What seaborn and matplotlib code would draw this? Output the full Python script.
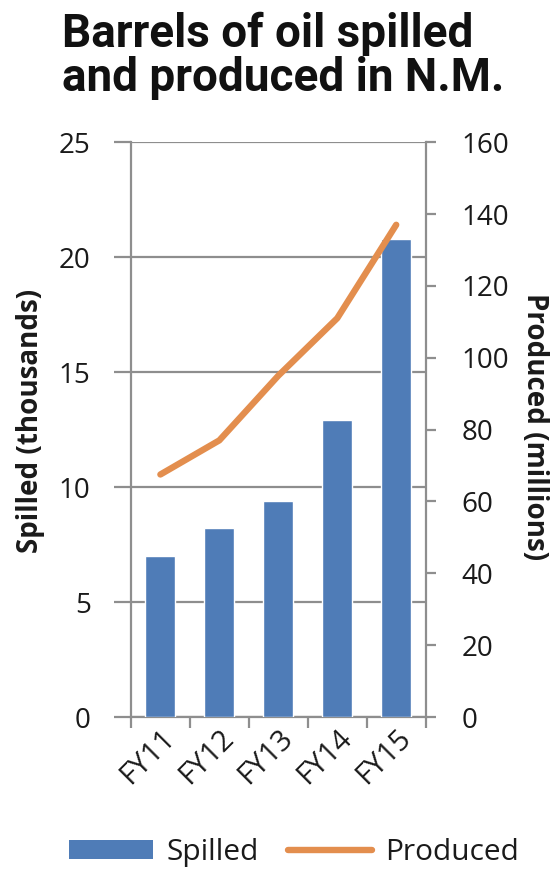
import matplotlib
matplotlib.use("Agg")
import matplotlib.pyplot as plt
from matplotlib import font_manager
from matplotlib.patches import Patch
from matplotlib.lines import Line2D
import seaborn as sns
import pandas as pd

# Data
years = ["FY11", "FY12", "FY13", "FY14", "FY15"]
spilled_thousands = [7.0, 8.2, 9.4, 12.9, 20.8]
produced_millions = [67.5, 77, 95, 111, 137]

left_ticks = [0, 5, 10, 15, 20, 25]
right_ticks = [0, 20, 40, 60, 80, 100, 120, 140, 160]

BLUE = "#4f7cb7"
ORANGE = "#e38e4e"
GRID = "#8e8e8e"
TEXT = "#1a1a1a"


def pick_font(candidates):
    for name in candidates:
        try:
            font_manager.findfont(name, fallback_to_default=False)
            return name
        except Exception:
            continue
    return "DejaVu Sans"


title_font = pick_font(["Roboto", "Open Sans"])
body_font = pick_font(["Open Sans", "Lato"])
label_font = pick_font(["Open Sans", "Lato"])

sns.set_theme(style="white")
plt.rcParams["font.family"] = [body_font, "DejaVu Sans"]

df = pd.DataFrame({"year": years,
                   "spilled": spilled_thousands,
                   "produced": produced_millions})

fig = plt.figure(figsize=(5.5, 8.71), dpi=100)
ax = fig.add_axes([0.238, 0.1768, 0.536, 0.660])

sns.barplot(data=df, x="year", y="spilled", color=BLUE, width=0.51,
            saturation=1, ax=ax, zorder=3)
ax.set_xlim(-0.5, len(years) - 0.5)
ax.set_ylim(0, 25)
ax.set_yticks(left_ticks)
ax.set_yticklabels([str(t) for t in left_ticks])
ax.yaxis.grid(True, color=GRID, linewidth=1.6, zorder=0)
ax.set_axisbelow(True)
ax.set_xlabel("")
ax.set_ylabel("Spilled (thousands)", fontsize=20, fontweight="bold",
              family=[label_font, "DejaVu Sans"], color=TEXT,
              ha="center", va="center")
ax.yaxis.set_label_coords(-0.342, 0.515)

for side in ["top", "right"]:
    ax.spines[side].set_visible(False)
for side in ["left", "bottom"]:
    ax.spines[side].set_color(GRID)
    ax.spines[side].set_linewidth(1.6)

# category boundary ticks on the x axis
ax.set_xticks([i - 0.5 for i in range(len(years) + 1)], minor=True)
ax.tick_params(axis="x", which="minor", bottom=True, length=8, width=1.6,
               color=GRID)
ax.tick_params(axis="x", which="major", bottom=False, length=0, pad=5,
               labelsize=21, labelcolor=TEXT)
ax.tick_params(axis="y", left=True, length=12, width=1.6, color=GRID,
               pad=17, labelsize=20, labelcolor=TEXT)
for lab in ax.get_xticklabels():
    lab.set_rotation(45)
    lab.set_ha("right")
    lab.set_va("top")
    lab.set_rotation_mode("anchor")

ax2 = ax.twinx()
sns.lineplot(x=list(range(len(years))), y=produced_millions, color=ORANGE,
             linewidth=4.6, ax=ax2, solid_capstyle="round", zorder=4)
ax2.set_ylim(0, 160)
ax2.set_yticks(right_ticks)
ax2.set_yticklabels([str(t) for t in right_ticks])
ax2.set_xlim(-0.5, len(years) - 0.5)
for side in ["top", "left", "bottom"]:
    ax2.spines[side].set_visible(False)
ax2.spines["right"].set_color(GRID)
ax2.spines["right"].set_linewidth(1.6)
ax2.tick_params(axis="y", right=True, length=7, width=1.6, color=GRID,
                pad=19, labelsize=20, labelcolor=TEXT)
ax2.set_ylabel("Produced (millions)", fontsize=20, fontweight="bold",
               family=[label_font, "DejaVu Sans"], color=TEXT,
               rotation=270, ha="center", va="center")
ax2.yaxis.set_label_coords(1.368, 0.505)

fig.text(0.112, 0.987, "Barrels of oil spilled\nand produced in N.M.",
         ha="left", va="top", fontsize=33, fontweight="bold",
         family=[title_font, "DejaVu Sans"], color="#111111",
         linespacing=1.0)

handles = [Patch(facecolor=BLUE, edgecolor="none"),
           Line2D([0], [0], color=ORANGE, linewidth=4.6,
                  solid_capstyle="round")]
fig.legend(handles, ["Spilled", "Produced"], loc="center",
           bbox_to_anchor=(0.535, 0.021), ncol=2, frameon=False,
           fontsize=21.5, handlelength=2.8, handleheight=0.6,
           handletextpad=0.45, columnspacing=1.0, labelcolor=TEXT)

fig.savefig("out.png", dpi=100)
